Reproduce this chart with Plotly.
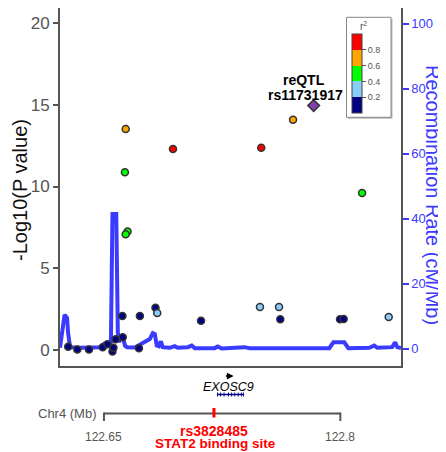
import plotly.graph_objects as go

# ---------------- data ----------------
snp_pos = [122.6273, 122.6331, 122.6405, 122.6492, 122.6522, 122.6554, 122.6560,
           122.6574, 122.6619, 122.6617, 122.6728, 122.6722, 122.6827, 122.6838,
           122.7116, 122.7490, 122.7611, 122.7619, 122.7998, 122.8021, 122.8307,
           122.6638, 122.6633, 122.6938, 122.7498, 122.7700, 122.8138, 122.6650,
           122.6638]
snp_logp = [0.20, 0.03, 0.03, 0.17, 0.35, -0.10, 0.14,
            0.65, 0.78, 2.08, 2.08, 0.10, 2.59, 2.26,
            1.79, 2.63, 2.63, 1.88, 1.88, 1.90, 2.02,
            13.52, 10.87, 12.29, 12.37, 14.09, 9.60, 7.25,
            7.08]
snp_r2 = [0.1, 0.1, 0.1, 0.1, 0.1, 0.1, 0.1,
          0.1, 0.1, 0.1, 0.1, 0.1, 0.1, 0.3,
          0.1, 0.3, 0.3, 0.1, 0.1, 0.1, 0.3,
          0.7, 0.5, 0.9, 0.9, 0.7, 0.5, 0.5,
          0.5]

reqtl_pos = [122.7831]
reqtl_logp = [14.95]
reqtl_label = "reQTL"
reqtl_name = "rs11731917"

recomb_pos = [122.6221, 122.6234, 122.6250, 122.6266, 122.6272, 122.6285, 122.6348,
              122.6475, 122.6500, 122.6513, 122.6532, 122.6544, 122.6554, 122.6578,
              122.6588, 122.6595, 122.6608, 122.6620, 122.6633, 122.6646, 122.6696,
              122.6791, 122.6810, 122.6823, 122.6835, 122.6848, 122.6861, 122.6873,
              122.6918, 122.6949, 122.6968, 122.7032, 122.7057, 122.7076, 122.7203,
              122.7222, 122.7247, 122.7361, 122.7392, 122.7424, 122.7930, 122.7956,
              122.8025, 122.8051, 122.8184, 122.8215, 122.8234, 122.8329, 122.8348,
              122.8361, 122.8385]
recomb_rate = [0.3, 5.0, 10.5, 9.5, 5.0, 0.5, 0.3,
               0.5, 1.5, 0.8, 1.5, 2.0, 41.5, 41.5,
               5.0, 2.0, 3.5, 3.8, 1.0, 0.5, 0.4,
               3.0, 4.8, 4.5, 1.0, 0.8, 2.3, 0.5,
               0.3, 0.8, 0.3, 0.5, 1.0, 0.2, 0.2,
               0.7, 0.1, 0.3, 0.5, 0.2, 0.2, 2.0,
               2.0, 0.2, 0.3, 1.0, 0.3, 0.5, 2.0,
               0.5, 0.2]

gene_name = "EXOSC9"
gene_start = 122.7219
gene_end = 122.7389
gene_exons = [122.7221, 122.7240, 122.7262, 122.7290, 122.7310, 122.7330,
              122.7352, 122.7372, 122.7385]

stat2_pos = 122.7198
stat2_name = "rs3828485"
stat2_label = "STAT2 binding site"

chr_label = "Chr4 (Mb)"
chr_ticks = [122.65, 122.8]
chr_tick_labels = ["122.65", "122.8"]

x_range = [122.6221, 122.8385]
p_range = [-0.98, 20.92]
p_ticks = [0, 5, 10, 15, 20]
rate_range = [-5.3, 104.9]
rate_ticks = [0, 20, 40, 60, 80, 100]

r2_ticks = [0.2, 0.4, 0.6, 0.8]
r2_colors = ["#000080", "#87CEFA", "#00FF00", "#FFA500", "#FF0000"]

# ---------------- layout geometry ----------------
# the page draws the figure 8 px in from the window's corner
OFF = 8
W, H = 446 - OFF, 452 - OFF
ML, MR, MT, MB = 60 - OFF, 45, 0, 0
PW = W - ML - MR
PH = H - MT - MB
main_bottom_fig = 366 - OFF
main_dom0 = (H - main_bottom_fig) / PH


def paper_x(ref_px):
    return (ref_px - OFF - ML) / PW


def paper_y(ref_py):
    return (H - (ref_py - OFF)) / PH


def ty(ref_py):  # y2 (gene track) coordinate
    return H - (ref_py - OFF)


FONT = "Liberation Sans, Arial, Helvetica, sans-serif"
BLUE = "#3B3BFF"
GRAY = "#555555"

colorscale = []
for i, c in enumerate(r2_colors):
    colorscale.append([i / len(r2_colors), c])
    colorscale.append([(i + 1) / len(r2_colors), c])

# legend geometry (reference px)
LB = dict(x0=346.5, x1=391, y0=17.3, y1=117.3)
BAR_L, BAR_T, BAR_LEN, BAR_TH = 352.3, 34.0, 78.7, 10

fig = go.Figure()

fig.add_trace(go.Scatter(
    x=recomb_pos, y=recomb_rate, xaxis="x", yaxis="y", mode="lines",
    line=dict(color=BLUE, width=4), hoverinfo="skip", showlegend=False))

fig.add_trace(go.Scatter(
    x=snp_pos, y=snp_logp, xaxis="x", yaxis="y3", mode="markers",
    marker=dict(size=7, color=snp_r2, colorscale=colorscale, cmin=0, cmax=1,
                line=dict(color="#333333", width=1.5),
                showscale=True,
                colorbar=dict(
                    x=paper_x(BAR_L), xanchor="left",
                    y=paper_y(BAR_T), yanchor="top",
                    thickness=BAR_TH, thicknessmode="pixels",
                    len=BAR_LEN, lenmode="pixels",
                    xpad=0, ypad=0,
                    bgcolor="rgba(0,0,0,0)", borderwidth=0,
                    outlinecolor="#444444", outlinewidth=1,
                    tickvals=r2_ticks, ticktext=[str(t) for t in r2_ticks],
                    ticks="outside", ticklen=4, tickcolor=GRAY, tickwidth=1,
                    tickfont=dict(size=9, color=GRAY, family=FONT),
                )),
    showlegend=False))

fig.add_trace(go.Scatter(
    x=reqtl_pos, y=reqtl_logp, xaxis="x", yaxis="y3", mode="markers",
    marker=dict(symbol="diamond", size=9, color="#7F3FA8",
                line=dict(color="#333333", width=1.5)),
    showlegend=False))

# dummy trace to create gene track subplot
fig.add_trace(go.Scatter(x=[gene_start], y=[0], xaxis="x2", yaxis="y2",
                         mode="markers", marker=dict(opacity=0), hoverinfo="skip",
                         showlegend=False))

shapes = []
# legend box (shadow + box)
shapes.append(dict(type="rect", xref="paper", yref="paper",
                   x0=paper_x(LB["x0"] + 1.5), x1=paper_x(LB["x1"] + 1.5),
                   y0=paper_y(LB["y0"] + 1.5), y1=paper_y(LB["y1"] + 1.5),
                   line=dict(width=0), fillcolor="#BBBBBB", layer="above"))
shapes.append(dict(type="rect", xref="paper", yref="paper",
                   x0=paper_x(LB["x0"]), x1=paper_x(LB["x1"]),
                   y0=paper_y(LB["y0"]), y1=paper_y(LB["y1"]),
                   line=dict(color="#888888", width=1), fillcolor="white", layer="above"))
# separators between colour blocks
for t in r2_ticks:
    yy = BAR_T + (1 - t) * BAR_LEN
    shapes.append(dict(type="line", xref="paper", yref="paper",
                       x0=paper_x(BAR_L), x1=paper_x(BAR_L + BAR_TH),
                       y0=paper_y(yy), y1=paper_y(yy),
                       line=dict(color="#444444", width=1)))

# genomic axis
shapes.append(dict(type="line", xref="x2", yref="y2", x0=chr_ticks[0], x1=chr_ticks[-1],
                   y0=ty(413.5), y1=ty(413.5), line=dict(color=GRAY, width=2)))
for t in chr_ticks:
    shapes.append(dict(type="line", xref="x2", yref="y2", x0=t, x1=t,
                       y0=ty(412.5), y1=ty(421), line=dict(color=GRAY, width=2)))
# STAT2 SNP mark
shapes.append(dict(type="line", xref="x2", yref="y2", x0=stat2_pos, x1=stat2_pos,
                   y0=ty(408), y1=ty(417.5), line=dict(color="#FF0000", width=3)))
# gene body
shapes.append(dict(type="line", xref="x2", yref="y2", x0=gene_start, x1=gene_end,
                   y0=ty(394.5), y1=ty(394.5), line=dict(color="#000080", width=1.5)))
for e in gene_exons:
    shapes.append(dict(type="rect", xref="x2", yref="y2", x0=e - 0.0003, x1=e + 0.0003,
                       y0=ty(396.5), y1=ty(392.5), line=dict(width=0),
                       fillcolor="#000080"))

gene_mid = (gene_start + gene_end) / 2

annotations = []
annotations.append(dict(xref="paper", yref="paper", x=paper_x(363.5), y=paper_y(26.5),
                        text="r<sup>2</sup>", showarrow=False, xanchor="center",
                        yanchor="middle", font=dict(size=10, color=GRAY, family=FONT)))
annotations.append(dict(xref="x2", yref="y2", x=gene_mid + 0.0019, y=ty(376),
                        ax=gene_mid - 0.0040, ay=ty(376), axref="x2", ayref="y2",
                        text="", showarrow=True, arrowhead=2, arrowsize=0.9,
                        arrowwidth=1.5, arrowcolor="black", standoff=0, startstandoff=0))
annotations.append(dict(xref="x2", yref="y2", x=gene_mid - 0.0012, y=ty(387),
                        text="<i>" + gene_name + "</i>", showarrow=False,
                        font=dict(size=12.5, color="black", family=FONT),
                        xanchor="center", yanchor="middle"))
annotations.append(dict(xref="paper", yref="y2", x=paper_x(99), y=ty(413),
                        text=chr_label, showarrow=False, xanchor="right", yanchor="middle",
                        font=dict(size=13, color=GRAY, family=FONT)))
for t, lab in zip(chr_ticks, chr_tick_labels):
    annotations.append(dict(xref="x2", yref="y2", x=t, y=ty(437), text=lab,
                            showarrow=False, xanchor="center", yanchor="middle",
                            font=dict(size=12, color=GRAY, family=FONT)))
annotations.append(dict(xref="x2", yref="y2", x=stat2_pos, y=ty(431),
                        text="<b>" + stat2_name + "</b>", showarrow=False,
                        xanchor="center", yanchor="middle",
                        font=dict(size=14, color="#FF0000", family=FONT)))
annotations.append(dict(xref="x2", yref="y2", x=stat2_pos, y=ty(443.5),
                        text="<b>" + stat2_label + "</b>", showarrow=False,
                        xanchor="center", yanchor="middle", xshift=2,
                        font=dict(size=13.5, color="#FF0000", family=FONT)))

# reQTL labels
annotations.append(dict(xref="x", yref="y3", x=reqtl_pos[0], y=reqtl_logp[0],
                        text="<b>" + reqtl_name + "</b>", showarrow=False,
                        xanchor="center", yanchor="middle", xshift=-8, yshift=11,
                        font=dict(size=14, color="black", family=FONT)))
annotations.append(dict(xref="x", yref="y3", x=reqtl_pos[0], y=reqtl_logp[0],
                        text="<b>" + reqtl_label + "</b>", showarrow=False,
                        xanchor="center", yanchor="middle", xshift=-10, yshift=25.5,
                        font=dict(size=14, color="black", family=FONT)))

# axis titles
annotations.append(dict(xref="paper", yref="paper", x=paper_x(20), y=paper_y(190),
                        text="-Log10(P value)", textangle=-90, showarrow=False,
                        xanchor="center", yanchor="middle",
                        font=dict(size=20, color="#111111", family=FONT)))
annotations.append(dict(xref="paper", yref="paper", x=paper_x(433), y=paper_y(195),
                        text="Recombination Rate (cM/Mb)", textangle=90, showarrow=False,
                        xanchor="center", yanchor="middle",
                        font=dict(size=20, color=BLUE, family=FONT)))

fig.update_layout(
    width=W, height=H,
    margin=dict(l=ML, r=MR, t=MT, b=MB, autoexpand=False),
    paper_bgcolor="white", plot_bgcolor="white",
    font=dict(family=FONT),
    showlegend=False,
    xaxis=dict(domain=[0, 1], range=x_range, anchor="y", showline=True, mirror=True,
               linecolor=GRAY, linewidth=1.5, showticklabels=False, ticks="",
               showgrid=False, zeroline=False),
    yaxis=dict(domain=[main_dom0, 1], range=rate_range, anchor="x", side="right",
               tickvals=rate_ticks, ticks="outside", ticklen=6, tickwidth=1.5,
               tickcolor=BLUE, tickfont=dict(size=13, color=BLUE, family=FONT),
               showline=True, mirror=True, linecolor=GRAY, linewidth=1.5,
               showgrid=False, zeroline=False),
    yaxis3=dict(overlaying="y", side="left", range=p_range, anchor="x",
                tickvals=p_ticks, ticks="outside", ticklen=6, tickwidth=1.5,
                tickcolor=GRAY, tickfont=dict(size=17, color=GRAY, family=FONT),
                showline=False, showgrid=False, zeroline=False),
    xaxis2=dict(domain=[0, 1], range=x_range, anchor="y2", visible=False),
    yaxis2=dict(domain=[0, main_dom0], range=[0, H - main_bottom_fig], anchor="x2",
                visible=False),
    shapes=shapes,
    annotations=annotations,
)

fig.write_html("out.html")
